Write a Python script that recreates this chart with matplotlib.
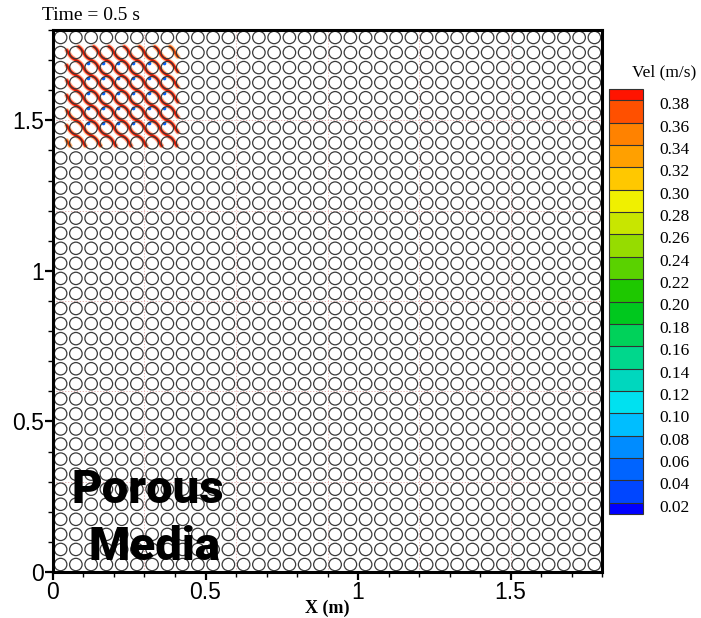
import numpy as np
import matplotlib
matplotlib.use("Agg")
import matplotlib.pyplot as plt
from matplotlib.colors import ListedColormap, BoundaryNorm
from matplotlib.collections import PatchCollection
from matplotlib.patches import Circle
from matplotlib.cm import ScalarMappable
import matplotlib.transforms as mtransforms

# ---- domain and cylinder array -------------------------------------------
domain_size = 1.8          # m, square box
n_cyl = 36                 # cylinders per row / column
cyl_pitch = 0.05           # m
cyl_radius = 0.0205        # m
block_lines = [0.3, 0.6, 0.9, 1.2, 1.5]   # mesh block boundaries

# ---- velocity contour levels (m/s) ---------------------------------------
vel_bounds = [0.01, 0.02, 0.04, 0.06, 0.08, 0.10, 0.12, 0.14, 0.16, 0.18,
              0.20, 0.22, 0.24, 0.26, 0.28, 0.30, 0.32, 0.34, 0.36, 0.38, 0.39]
vel_colors = ['#0000ff', '#0046ff', '#0064ff', '#008cff', '#00beff',
              '#00e1f0', '#00d7be', '#00d78c', '#00d25a', '#00c81e',
              '#1ec800', '#5ad200', '#96dc00', '#c8e600', '#f0f000',
              '#ffc800', '#ffa000', '#ff8200', '#ff5000', '#ff1400']
vel_ticks = [0.02, 0.04, 0.06, 0.08, 0.10, 0.12, 0.14, 0.16, 0.18, 0.20,
             0.22, 0.24, 0.26, 0.28, 0.30, 0.32, 0.34, 0.36, 0.38]

# ---- jet region entering the array (top-left corner) ----------------------
jet_box = (0.045, 0.41, 1.415, 1.745)     # xmin, xmax, ymin, ymax
streak_c = [1.475, 1.525, 1.575, 1.625, 1.675, 1.725, 1.775,
            1.825, 1.875, 1.925, 1.975, 2.025, 2.075, 2.125]   # x + y of streaks
streak_core_speed = [0.37, 0.38, 0.385, 0.385, 0.385, 0.385, 0.385,
                     0.385, 0.385, 0.385, 0.385, 0.385, 0.38, 0.37]
streak_edge_speed = [0.35, 0.35, 0.35, 0.36, 0.36, 0.36, 0.36,
                     0.36, 0.36, 0.36, 0.36, 0.35, 0.35, 0.35]
stagnation_cols = [2, 3, 4, 5, 6, 7]
stagnation_rows = [29, 30, 31, 32, 33]
stagnation_speed = 0.05

x_ticks = [0, 0.5, 1, 1.5]
x_ticklabels = ['0', '0.5', '1', '1.5']
y_ticks = [0, 0.5, 1, 1.5]
y_ticklabels = ['0', '0.5', '1', '1.5']

cmap = ListedColormap(vel_colors)
norm = BoundaryNorm(vel_bounds, cmap.N)

fig = plt.figure(figsize=(7.01, 6.18), dpi=100)
ax = fig.add_axes([0.0756, 0.0744, 0.7832, 0.8771])
ax.set_xlim(0, domain_size)
ax.set_ylim(0, domain_size)

# mesh block boundaries (faint)
for v in block_lines:
    ax.axvline(v, color='#e3a4a4', lw=0.6, ls=(0, (1.5, 2.0)), zorder=1)
    ax.axhline(v, color='#e3a4a4', lw=0.6, ls=(0, (1.5, 2.0)), zorder=1)

# streaks of the jet weaving between cylinders
amp = 0.003
xmin, xmax, ymin, ymax = jet_box
for c, vc, ve in zip(streak_c, streak_core_speed, streak_edge_speed):
    K = int(round((c - 0.025) / cyl_pitch))
    u0 = cyl_pitch * ((K - 1) % 2)
    u = np.linspace(-2.2, 2.2, 4000)
    d = amp * np.cos(2 * np.pi * (u - u0) / (2 * cyl_pitch))
    xs = (c + u) / 2 + d / np.sqrt(2)
    ys = (c - u) / 2 + d / np.sqrt(2)
    m = (xs >= xmin) & (xs <= xmax) & (ys >= ymin) & (ys <= ymax)
    if m.sum() < 2:
        continue
    pts = np.column_stack([xs[m], ys[m]])
    ax.plot(pts[:, 0], pts[:, 1], color=cmap(norm(ve)), lw=3.6,
            alpha=0.4, solid_capstyle='round', zorder=2)
    ax.plot(pts[:, 0], pts[:, 1], color=cmap(norm(vc)), lw=2.0,
            solid_capstyle='round', zorder=2.2)
    ax.plot(pts[:, 0], pts[:, 1], color='#a01e00', lw=0.7,
            alpha=0.6, zorder=2.3)

# low-speed spots where the streaks meet the cylinders
sx, sy = [], []
for i in stagnation_cols:
    for j in stagnation_rows:
        cx = 0.025 + cyl_pitch * i
        cy = 0.025 + cyl_pitch * j
        ang = np.deg2rad(125)
        sx.append(cx + cyl_radius * np.cos(ang))
        sy.append(cy + cyl_radius * np.sin(ang))
ax.scatter(sx, sy, s=7, color=cmap(norm(stagnation_speed)), lw=0, zorder=2.5)

# cylinder array
centers = 0.025 + cyl_pitch * np.arange(n_cyl)
circles = [Circle((x, y), cyl_radius) for x in centers for y in centers]
ax.add_collection(PatchCollection(circles, facecolor='none',
                                  edgecolor='#3a3a3a', linewidth=0.9, zorder=3))

# axes styling
for s in ax.spines.values():
    s.set_linewidth(2.2)
    s.set_zorder(5)
ax.set_xticks(x_ticks)
ax.set_xticklabels(x_ticklabels)
ax.set_yticks(y_ticks)
ax.set_yticklabels(y_ticklabels)
ax.set_xticks(np.arange(0, 1.81, 0.1), minor=True)
ax.set_yticks(np.arange(0, 1.81, 0.1), minor=True)
ax.tick_params(which='major', direction='out', length=5.5, width=1.6, pad=1,
               labelsize=16.5, top=False, right=False)
ax.tick_params(which='minor', direction='out', length=3.5, width=1.0,
               top=False, right=False)
for lbl in ax.get_xticklabels() + ax.get_yticklabels():
    lbl.set_fontfamily('Liberation Sans')

ax.set_xlabel('X (m)', fontfamily='Liberation Serif', fontweight='bold',
              fontsize=13, labelpad=-3)

# label in the corner
ax.text(0.312, 0.229, 'Porous', fontfamily='Roboto', fontweight='black',
        fontsize=34, ha='center', va='baseline', zorder=6)
ax.text(0.333, 0.040, 'Media', fontfamily='Roboto', fontweight='black',
        fontsize=34, ha='center', va='baseline', zorder=6)

fig.text(42 / 701, 1 - 16 / 618, 'Time = 0.5 s', fontfamily='Liberation Serif',
         fontsize=14, ha='left', va='center')

# colour legend
cax = fig.add_axes([609 / 701, 1 - 514 / 618, 34 / 701, 425 / 618])
cb = fig.colorbar(ScalarMappable(norm=norm, cmap=cmap), cax=cax,
                  boundaries=vel_bounds, spacing='proportional',
                  ticks=vel_ticks, drawedges=True)
cb.outline.set_edgecolor('#333333')
cb.outline.set_linewidth(0.8)
cb.dividers.set_color('#333333')
cb.dividers.set_linewidth(0.8)
cax.minorticks_off()
cax.tick_params(which='both', length=0, width=0, pad=12, labelsize=12.5)
cax.set_yticklabels(['%.2f' % v for v in vel_ticks])
shift = mtransforms.ScaledTranslation(0, -3 / 100, fig.dpi_scale_trans)
for lbl in cax.get_yticklabels():
    lbl.set_fontfamily('Liberation Serif')
    lbl.set_transform(lbl.get_transform() + shift)
fig.text(664 / 701, 1 - 72 / 618, 'Vel (m/s)', fontfamily='Liberation Serif',
         fontsize=12.5, ha='center', va='center')

fig.savefig('out.png', dpi=100)
